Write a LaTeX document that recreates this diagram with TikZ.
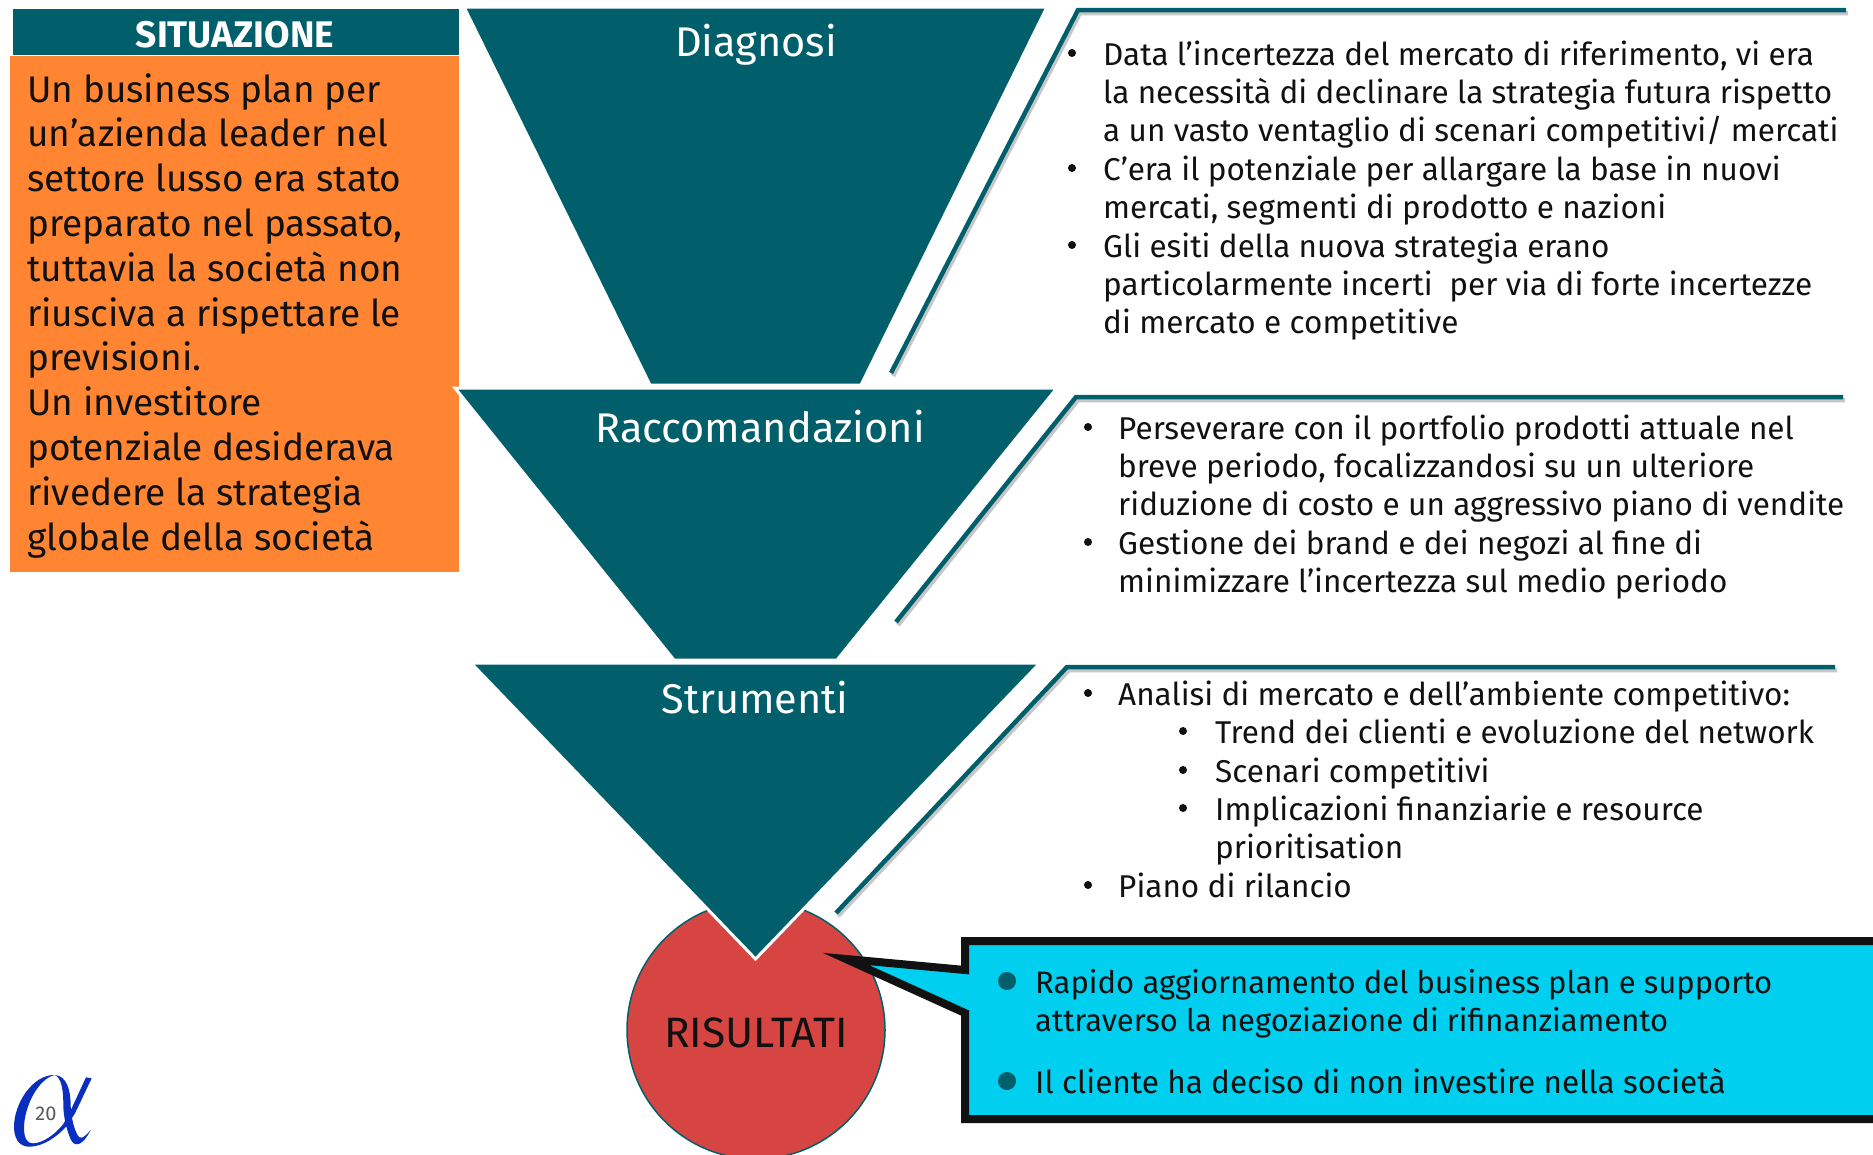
\documentclass[tikz,border=0pt]{standalone}
\usepackage{fontspec}
\setmainfont{Fira Sans}
\definecolor{teal1}{HTML}{005F6B}
\definecolor{orange1}{HTML}{FF8533}
\definecolor{red1}{HTML}{D64541}
\definecolor{cyan1}{HTML}{00CFEF}
\definecolor{ink}{HTML}{111111}
\definecolor{logoblue}{HTML}{0A2FBF}
\newcommand{\bodyfont}{\fontsize{31.5}{38.4}\selectfont}
\newcommand{\lines}[1]{\begin{tabular}[t]{@{}l@{}}#1\end{tabular}}
\tikzset{
  funnel/.style={fill=teal1,draw=white,line width=3pt,line join=miter},
  trail/.style={draw=teal1,line width=4.5pt,line join=miter},
  trailshadow/.style={draw=black!22,line width=4.5pt,line join=miter},
  bodytxt/.style={anchor=base west,inner sep=0pt,text=ink,font=\bodyfont},
  dotmark/.style={circle,fill=ink,minimum size=8pt,inner sep=0pt},
  title/.style={anchor=base,inner sep=0pt,text=white,font=\fontsize{41.5}{46}\selectfont},
}
\begin{document}
\begin{tikzpicture}[x=1pt,y=-1pt]
\useasboundingbox (0,0) rectangle (1873,1154);
\clip (0,0) rectangle (1873,1154);
% situation
\node[draw=white,line width=1pt,fill=teal1,minimum width=447pt,minimum height=47pt,inner sep=0pt,anchor=north west] (sitbar) at (12,8) {};
\node[anchor=base,inner sep=0pt,text=white,font=\fontsize{37}{42}\selectfont\bfseries] (sit) at (235,47) {SITUAZIONE};
\node[fill=orange1,minimum width=449pt,minimum height=516pt,inner sep=0pt,anchor=north west] (orangebox) at (10,56) {};
\node[anchor=base west,inner sep=0pt,text=ink,font=\fontsize{37}{44.8}\selectfont] (sittxt) at (27,102) {\lines{Un business plan per\\un’azienda leader nel\\settore lusso era stato\\preparato nel passato,\\tuttavia la società non\\riusciva a rispettare le\\previsioni.\\Un investitore\\potenziale desiderava\\rivedere la strategia\\globale della società}};
% result circle
\node[circle,fill=red1,draw=teal1,line width=1.5pt,minimum size=258pt,inner sep=0pt] (ris) at (756,1030) {};
% funnels
\draw[funnel] (464,7) -- (1047,7) -- (861,385) -- (650,385) -- cycle;
\draw[funnel] (455,388) -- (1057,388) -- (837,660) -- (674,660) -- cycle;
\draw[funnel] (471,663) -- (1040,663) -- (755.5,959) -- cycle;
\node[title] (t1) at (756,56) {Diagnosi};
\node[title] (t2) at (760,442) {Raccomandazioni};
\node[title] (t3) at (755,713) {Strumenti};
% trails
\draw[trailshadow] (893,376) -- (1080,13) -- (1848,13);
\draw[trail] (891,373) -- (1078,10) -- (1846,10);
\draw[trailshadow] (898,625) -- (1078,400) -- (1845,400);
\draw[trail] (896,622) -- (1076,397) -- (1843,397);
\draw[trailshadow] (838,916) -- (1069,670) -- (1837,670);
\draw[trail] (836,913) -- (1067,667) -- (1835,667);
% block 1
\node[dotmark] (b1) at (1072,53) {};
\node[bodytxt] (b1t) at (1103,65) {\lines{Data l’incertezza del mercato di riferimento, vi era\\la necessità di declinare la strategia futura rispetto\\a un vasto ventaglio di scenari competitivi/ mercati}};
\node[dotmark] (b2) at (1072,168) {};
\node[bodytxt] (b2t) at (1103,180) {\lines{C’era il potenziale per allargare la base in nuovi\\mercati, segmenti di prodotto e nazioni}};
\node[dotmark] (b3) at (1072,245) {};
\node[bodytxt] (b3t) at (1103,257) {\lines{Gli esiti della nuova strategia erano\\particolarmente incerti\ \ per via di forte incertezze\\di mercato e competitive}};
% block 2
\node[dotmark] (c1) at (1088,427) {};
\node[bodytxt] (c1t) at (1118,439) {\lines{Perseverare con il portfolio prodotti attuale nel\\breve periodo, focalizzandosi su un ulteriore\\riduzione di costo e un aggressivo piano di vendite}};
\node[dotmark] (c2) at (1088,542) {};
\node[bodytxt] (c2t) at (1118,554) {\lines{Gestione dei brand e dei negozi al fine di\\minimizzare l’incertezza sul medio periodo}};
% block 3
\node[dotmark] (d1) at (1088,693) {};
\node[bodytxt] (d1t) at (1118,705) {Analisi di mercato e dell’ambiente competitivo:};
\node[dotmark] (d2) at (1183,731) {};
\node[bodytxt] (d2t) at (1215,743) {Trend dei clienti e evoluzione del network};
\node[dotmark] (d3) at (1183,770) {};
\node[bodytxt] (d3t) at (1215,782) {Scenari competitivi};
\node[dotmark] (d4) at (1183,808) {};
\node[bodytxt] (d4t) at (1215,820) {\lines{Implicazioni finanziarie e resource\\prioritisation}};
\node[dotmark] (d5) at (1088,885) {};
\node[bodytxt] (d5t) at (1118,897) {Piano di rilancio};
% callout
\draw[draw=ink,line width=8pt,fill=cyan1,line join=miter,miter limit=20]
  (1900,941) -- (965,941) -- (965,970) -- (846,959) -- (965,1013) -- (965,1119) -- (1900,1119) -- cycle;
\node[circle,fill=teal1,minimum size=18pt,inner sep=0pt] (e1) at (1007,981) {};
\node[circle,fill=teal1,minimum size=18pt,inner sep=0pt] (e2) at (1007,1081) {};
\node[bodytxt,font=\fontsize{31}{38.4}\selectfont] (e1t) at (1035,993) {\lines{Rapido aggiornamento del business plan e supporto\\attraverso la negoziazione di rifinanziamento}};
\node[bodytxt] (e2t) at (1035,1093) {Il cliente ha deciso di non investire nella società};
\node[anchor=base,inner sep=0pt,text=ink,font=\fontsize{42.5}{46}\selectfont] (ristxt) at (756,1047) {RISULTATI};
% logo
\begin{scope}[shift={(0,1050)},x=0.3333pt,y=-0.3333pt]
\fill[logoblue]
  (165,75) .. controls (100,72) and (40,160) .. (42,235)
  .. controls (44,275) and (65,292) .. (92,290)
  .. controls (130,288) and (170,262) .. (200,228)
  -- (190,222)
  .. controls (165,255) and (125,280) .. (100,280)
  .. controls (85,282) and (72,268) .. (72,235)
  .. controls (72,170) and (115,85) .. (165,75) -- cycle;
\fill[logoblue] (258,82) -- (275,85) -- (225,190) -- (200,230) -- (190,222) -- (215,175) -- cycle;
\fill[logoblue] (165,75) .. controls (200,78) and (212,120) .. (212,165)
  .. controls (212,200) and (225,250) .. (238,262)
  .. controls (248,268) and (262,252) .. (272,240)
  .. controls (250,285) and (225,295) .. (212,268)
  .. controls (200,240) and (190,200) .. (190,165)
  .. controls (190,120) and (185,85) .. (165,75) -- cycle;
\end{scope}
\node[anchor=base,inner sep=0pt,text=black!65,font=\fontsize{20}{24}\selectfont] (pg) at (46,1120) {20};
\end{tikzpicture}
\end{document}
